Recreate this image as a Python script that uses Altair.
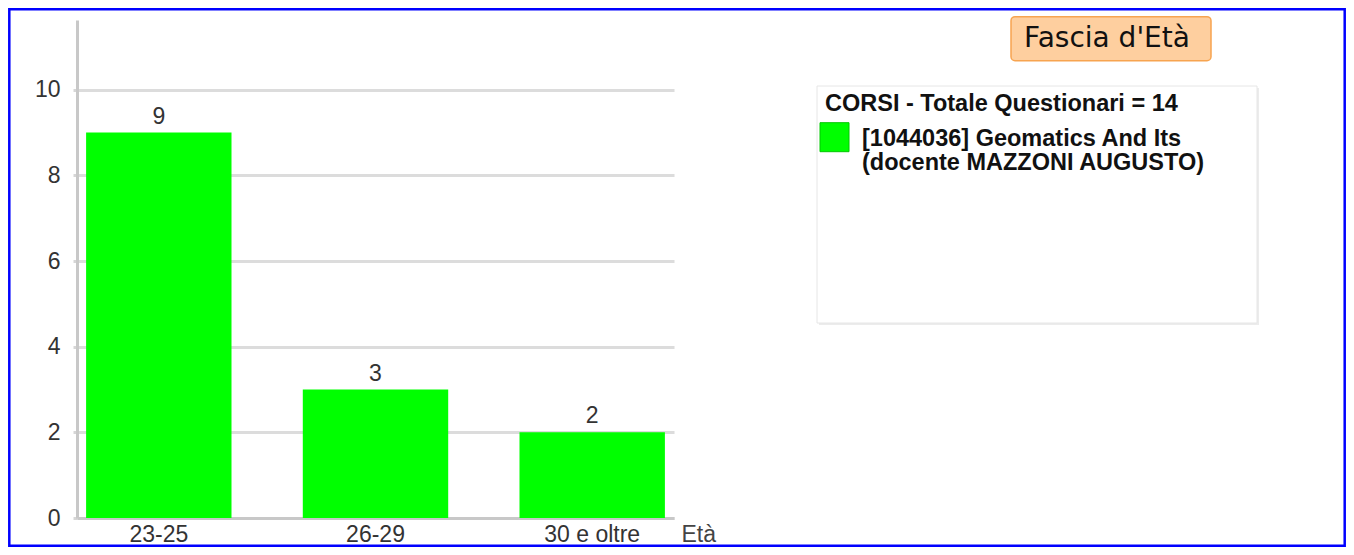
import altair as alt
import pandas as pd

# ---- data ----
categories = ["23-25", "26-29", "30 e oltre"]
counts = [9, 3, 2]
y_ticks = [0, 2, 4, 6, 8, 10]
chart_title = "Fascia d'Età"
x_title = "Età"
legend_title = "CORSI - Totale Questionari = 14"
series_label = ["[1044036] Geomatics And Its", "(docente MAZZONI AUGUSTO)"]

df = pd.DataFrame({"cat": categories, "n": counts})
one = alt.Data(values=[{"k": 1}])

FONT = "Liberation Sans"
W, H = 597, 498

xs = alt.X("cat:N", sort=categories,
           scale=alt.Scale(paddingInner=0.329, paddingOuter=0.042),
           axis=alt.Axis(title=x_title, labelAngle=0, ticks=False, domain=True,
                         domainColor="#c8c8c8", domainWidth=3, labelPadding=5,
                         labelFontSize=23, labelColor="#333333", labelFont=FONT,
                         titleFont=FONT, titleFontSize=23, titleFontWeight="normal",
                         titleColor="#444444", titleX=604, titleY=23,
                         titleAlign="left", titleBaseline="alphabetic", grid=False))
ys = alt.Y("n:Q", scale=alt.Scale(domain=[0, 11.63], nice=False),
           axis=alt.Axis(title=None, values=y_ticks, domain=True, domainColor="#c8c8c8",
                         domainWidth=3, ticks=True, tickColor="#d6d6d6", tickWidth=3,
                         tickSize=4, labelPadding=13, labelFontSize=23,
                         labelColor="#333333", labelFont=FONT, grid=True,
                         gridColor="#dcdcdc", gridWidth=3))

bars = alt.Chart(df).mark_bar(color="#00ff00").encode(x=xs, y=ys)
vals = alt.Chart(df).mark_text(font=FONT, fontSize=23, color="#333333",
                               baseline="alphabetic", dy=-9).encode(
    x=alt.X("cat:N", sort=categories), y="n:Q", text="n:Q")

# frame
border = alt.Chart(one).mark_rect(fill=None, stroke="#0000ff", strokeWidth=2.5).encode(
    x=alt.value(-67.7), x2=alt.value(1267.7), y=alt.value(-10.7), y2=alt.value(525.7))

# title box
tbox = alt.Chart(one).mark_rect(fill="#fecf9f", stroke="#f7a450", strokeWidth=1.5,
                                cornerRadius=4).encode(
    x=alt.value(934), x2=alt.value(1134), y=alt.value(-3.3), y2=alt.value(40.7))
ttext = alt.Chart(one).mark_text(font="DejaVu Sans", fontSize=28, color="#111111",
                                 align="center", baseline="alphabetic").encode(
    x=alt.value(1030), y=alt.value(27.3), text=alt.value(chart_title))

# legend box
lshadow = alt.Chart(one).mark_rect(fill="#ececec").encode(
    x=alt.value(742), x2=alt.value(1182), y=alt.value(68), y2=alt.value(305))
lbox = alt.Chart(one).mark_rect(fill="white", stroke="#e6e6e6", strokeWidth=1).encode(
    x=alt.value(740), x2=alt.value(1180), y=alt.value(66), y2=alt.value(303))
ltitle = alt.Chart(one).mark_text(font=FONT, fontSize=23.5, fontWeight="bold",
                                  color="#111111", align="left",
                                  baseline="alphabetic").encode(
    x=alt.value(748), y=alt.value(91), text=alt.value(legend_title))
swatch = alt.Chart(one).mark_rect(fill="#00ff00", stroke="#00c800", strokeWidth=1).encode(
    x=alt.value(743), x2=alt.value(772), y=alt.value(102.7), y2=alt.value(131.7))
llabel = alt.Chart(one).mark_text(font=FONT, fontSize=23.5, fontWeight="bold",
                                  color="#111111", align="left", baseline="alphabetic",
                                  lineHeight=24).encode(
    x=alt.value(785), y=alt.value(126), text=alt.value(series_label))

chart = alt.layer(border, tbox, ttext, lshadow, lbox, ltitle, swatch, llabel,
                  bars, vals).properties(
    width=W, height=H,
    autosize=alt.AutoSizeParams(type="none"),
    padding={"left": 69, "top": 12, "right": 672, "bottom": 29},
    background="white",
).configure_view(stroke=None)

chart.save("out.html", embed_options={"renderer": "svg", "actions": False})
